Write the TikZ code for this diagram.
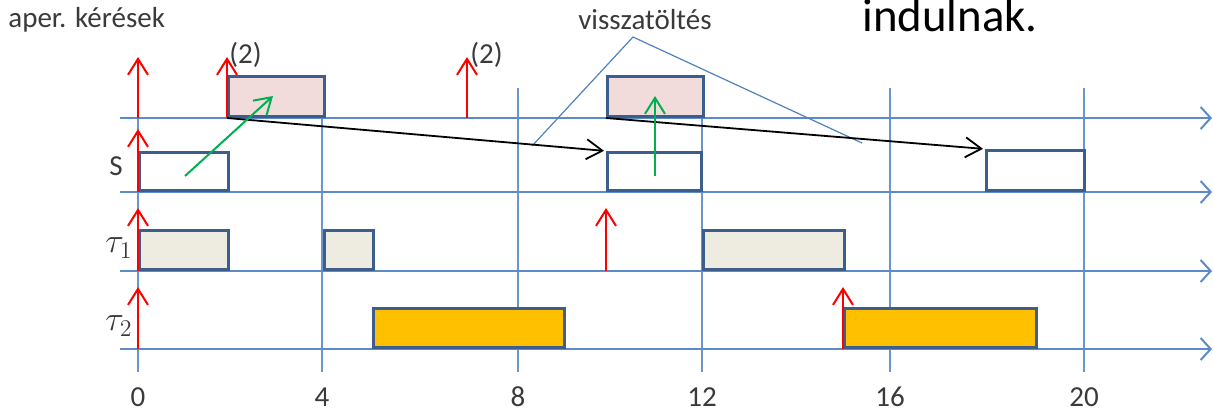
\documentclass[tikz,border=0pt]{standalone}
\usepackage{fontspec}
\setmainfont{Carlito}
\usetikzlibrary{arrows.meta}
\definecolor{axisblue}{HTML}{5B8BC8}
\definecolor{gridblue}{HTML}{6A96CC}
\definecolor{boxborder}{HTML}{3B5E8C}
\definecolor{pinkfill}{HTML}{F2DCDB}
\definecolor{greyfill}{HTML}{EEECE1}
\definecolor{goldfill}{HTML}{FFC000}
\definecolor{greenarr}{HTML}{00B050}
\definecolor{triblue}{HTML}{4F81BD}
\definecolor{txtgrey}{HTML}{3A3A3A}
\tikzset{
  axisline/.style={draw=axisblue, line width=1.2pt, -{Straight Barb[length=5pt,width=11pt,line width=1pt]}},
  gridline/.style={draw=gridblue, line width=0.7pt},
  taskbox/.style={draw=boxborder, line width=1.5pt, anchor=south west, inner sep=0pt, minimum height=19.5pt},
  release/.style={draw=red, line width=1pt, -{Straight Barb[length=8pt,width=10pt,line width=1pt]}},
  greenarrow/.style={draw=greenarr, line width=1pt, -{Straight Barb[length=8pt,width=10pt,line width=1pt]}},
  movearrow/.style={draw=black, line width=0.9pt, -{Straight Barb[length=8pt,width=10pt,line width=0.9pt]}},
  lbl/.style={font=\fontsize{14.5pt}{16pt}\selectfont, inner sep=0pt, text=txtgrey},
  taulbl/.style={font=\fontsize{17pt}{19pt}\selectfont, inner sep=0pt, text=txtgrey},
}
\begin{document}
\begin{tikzpicture}[x=0.5pt,y=-0.5pt]
\useasboundingbox (0,0) rectangle (1213,412);
% grid verticals
\foreach \xx/\name in {138/v0,322/v4,518/v8,702/v12,890/v16,1084/v20}{
  \coordinate (\name t) at (\xx,88);
  \coordinate (\name b) at (\xx,372);
  \draw[gridline] (\name t) -- (\name b);
}
% axes
\foreach \yy/\name in {118/ax,192/sx,271/t1x,349/t2x}{
  \coordinate (\name s) at (120,\yy);
  \coordinate (\name e) at (1212,\yy);
  \draw[axisline] (\name s) -- (\name e);
}
% tick labels
\foreach \xx/\t in {138/0,322/4,518/8,702/12,890/16,1084/20}{
  \node[lbl] (tick\t) at (\xx,397) {\t};
}
% boxes
\node[taskbox, fill=pinkfill, minimum width=48pt, minimum height=20pt] (a1) at (227,118) {};
\node[taskbox, fill=pinkfill, minimum width=48pt, minimum height=20pt] (a2) at (606,118) {};
\node[taskbox, fill=white, minimum width=44.5pt, minimum height=19pt] (s1) at (138,192) {};
\node[taskbox, fill=white, minimum width=47pt, minimum height=19pt] (s2) at (606,192) {};
\node[taskbox, fill=white, minimum width=49pt, minimum height=20pt] (s3) at (985,192) {};
\node[taskbox, fill=greyfill, minimum width=44.5pt] (p1) at (138,271) {};
\node[taskbox, fill=greyfill, minimum width=24.5pt] (p2) at (323,271) {};
\node[taskbox, fill=greyfill, minimum width=70.5pt] (p3) at (702,271) {};
\node[taskbox, fill=goldfill, minimum width=95.5pt] (q1) at (372,349) {};
\node[taskbox, fill=goldfill, minimum width=96pt] (q2) at (843,349) {};
% refill triangle
\coordinate (triL) at (532,146);
\coordinate (triT) at (633,37);
\coordinate (triR) at (862,143);
\draw[triblue, line width=0.6pt] (triL) -- (triT) -- (triR);
% release arrows
\foreach \xx/\yb/\yt/\name in {138/118/57/r1,227/118/57/r2,467/118/57/r3,138/192/129/r4,138/271/208/r5,606/271/208/r6,138/349/287/r7,843/349/287/r8}{
  \coordinate (\name b) at (\xx,\yb);
  \coordinate (\name t) at (\xx,\yt);
  \draw[release] (\name b) -- (\name t);
}
% moves
\draw[movearrow, shorten >=1pt] (a1.south west) -- (s2.north west);
\draw[movearrow, shorten >=1pt] (a2.south west) -- (s3.north west);
% green arrows
\coordinate (g1s) at (185,176);
\coordinate (g1e) at (273,96);
\coordinate (g2s) at (655,176);
\coordinate (g2e) at (655,96);
\draw[greenarrow] (g1s) -- (g1e);
\draw[greenarrow] (g2s) -- (g2e);
% texts
\node[lbl, anchor=west] (aper) at (8,20) {aper. kérések};
\node[lbl] (vissza) at (645,20) {visszatöltés};
\node[font=\fontsize{23.4pt}{26pt}\selectfont, inner sep=0pt, anchor=base west] (ind) at (862,32) {indulnak.};
\node[lbl, anchor=west] (two1) at (229,55) {(2)};
\node[lbl, anchor=west] (two2) at (470,55) {(2)};
\node[lbl] (lS) at (116,166) {S};
\node[taulbl] (lt1) at (119,248) {$\tau_1$};
\node[taulbl] (lt2) at (119,326) {$\tau_2$};
\end{tikzpicture}
\end{document}
